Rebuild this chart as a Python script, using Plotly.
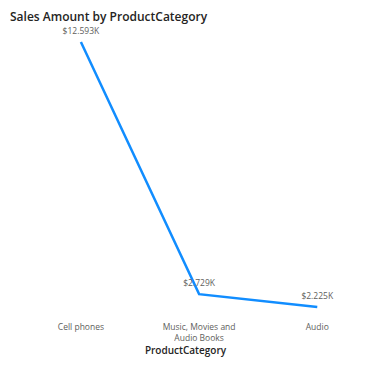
import plotly.graph_objects as go

categories = ["Cell phones", "Music, Movies and<br>Audio Books", "Audio"]
sales = [12593, 2729, 2225]
labels = [f"${v/1000:.3f}K" for v in sales]

fig = go.Figure()
fig.add_trace(go.Scatter(
    x=list(range(len(categories))), y=sales,
    mode="lines+markers+text",
    text=labels, textposition="top center",
    textfont=dict(family="Open Sans", size=8.5, color="#605E5C"),
    line=dict(color="#118DFF", width=2.5),
    marker=dict(size=8, color="rgba(0,0,0,0)"),
    cliponaxis=False, hoverinfo="skip",
))

fig.update_layout(
    width=371, height=371,
    margin=dict(l=10, r=10, t=35, b=56),
    paper_bgcolor="white", plot_bgcolor="white",
    showlegend=False,
    title=dict(text="Sales Amount by ProductCategory", x=0.027, xanchor="left",
               y=0.955, yanchor="middle",
               font=dict(family="Open Sans", size=12, color="#252423", weight=600)),
    xaxis=dict(tickmode="array", tickvals=list(range(len(categories))), ticktext=categories,
               range=[-0.60, 2.37], showgrid=False, zeroline=False, showline=False,
               ticks="", ticklabelstandoff=5,
               tickfont=dict(family="Open Sans", size=8.5, color="#605E5C"),
               title=dict(text="ProductCategory", standoff=4,
                          font=dict(family="Open Sans", size=10, color="#252423", weight=600))),
    yaxis=dict(range=[1912, 12867], visible=False),
)

fig.write_html("out.html")
